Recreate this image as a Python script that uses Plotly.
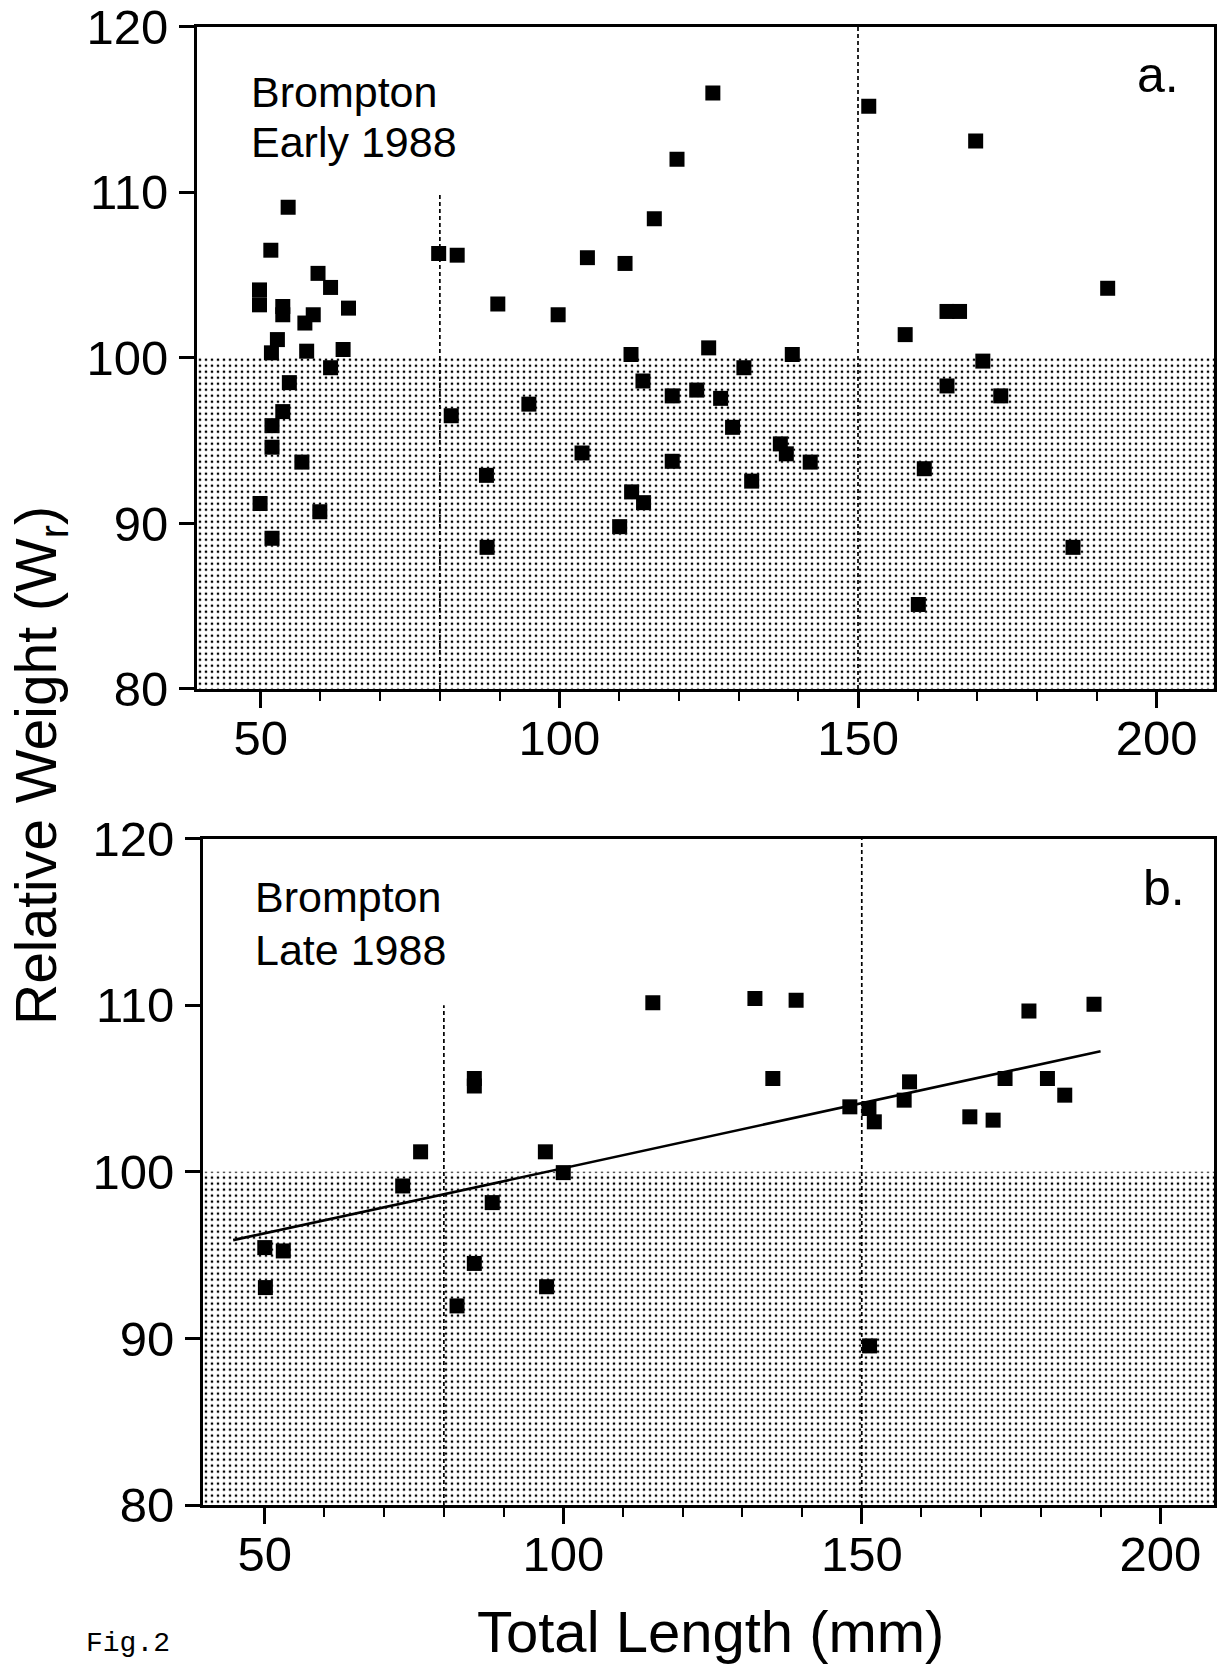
import plotly.graph_objects as go

# ---------------- data ----------------
early_x = [49.8, 49.8, 51.7, 54.6, 53.7, 53.7, 59.6, 61.7, 64.7, 57.4, 58.8, 52.8,
           51.8, 57.7, 63.8, 61.7, 54.8, 53.7, 51.9, 51.9, 56.9, 49.9, 59.9, 51.9,
           79.8, 82.9, 89.7, 99.8, 104.7, 111.0, 115.9, 119.7, 125.7, 81.9, 94.9,
           87.8, 87.9, 103.8, 112.0, 114.0, 118.9, 123.0, 125.0, 127.0, 129.0,
           130.9, 139.0, 118.9, 137.0, 138.0, 142.0, 132.2, 112.1, 114.1, 110.1,
           151.8, 169.7, 191.8, 157.9, 164.9, 167.0, 170.9, 164.9, 173.9, 161.1,
           186.0, 160.1]
early_y = [104.1, 103.2, 106.5, 109.1, 103.1, 102.6, 105.1, 104.25, 103.0, 102.1, 102.6, 101.1,
           100.3, 100.4, 100.5, 99.4, 98.5, 96.75, 95.9, 94.6, 93.7, 91.2, 90.7, 89.1,
           106.3, 106.2, 103.25, 102.6, 106.05, 105.7, 108.4, 112.0, 116.0, 96.5, 97.2,
           92.9, 88.55, 94.25, 100.2, 98.6, 97.7, 98.05, 100.6, 97.55, 95.8,
           99.4, 100.2, 93.75, 94.8, 94.2, 93.7, 92.55, 91.9, 91.25, 89.8,
           115.2, 113.1, 104.2, 101.4, 102.8, 102.8, 99.8, 98.3, 97.7, 93.3,
           88.55, 85.1]

late_x = [50.0, 53.1, 50.1, 73.1, 76.1, 85.1, 85.1, 88.1, 85.1, 82.2, 97.0, 100.0,
          97.2, 115.0, 132.1, 139.0, 135.1, 148.0, 151.2, 152.1, 157.1, 158.0,
          168.1, 172.0, 174.0, 178.0, 181.1, 184.0, 188.9, 151.3]
late_y = [95.45, 95.25, 93.05, 99.15, 101.2, 105.6, 105.15, 98.15, 94.5, 91.95, 101.2, 99.95,
          93.1, 110.15, 110.4, 110.3, 105.6, 103.9, 103.8, 103.0, 104.3, 105.4,
          103.3, 103.1, 105.6, 109.65, 105.6, 104.6, 110.05, 89.55]

# regression line (late 1988)
fit_x = [44.7, 190.0]
fit_y = [95.9, 107.24]

# size-class boundaries (dashed) and their upper ends
size_breaks = [80, 150]
break_tops = [110, 120]

wr_standard = 100          # shaded region below this Wr
y_range = [80, 120]
x_range_a = [39.34, 209.6]
x_range_b = [39.65, 209.0]
y_ticks = [80, 90, 100, 110, 120]
x_ticks = [50, 100, 150, 200]
x_minor = list(range(50, 210, 10))

FONT = "Liberation Sans, Arial, Helvetica, sans-serif"
W, H = 1220, 1666

def px_x(p):
    return p / W

def px_y(p):
    return 1 - p / H

fig = go.Figure()

panels = [
    ("x", "y", x_range_a, early_x, early_y, False),
    ("x2", "y2", x_range_b, late_x, late_y, True),
]

for xa, ya, xr, xs, ys, has_fit in panels:
    # shaded region below the standard
    fig.add_trace(go.Scatter(
        x=[xr[0], xr[1], xr[1], xr[0], xr[0]],
        y=[y_range[0], y_range[0], wr_standard, wr_standard, y_range[0]],
        mode="lines", fill="toself", line=dict(width=0, color="rgba(0,0,0,0)"),
        fillcolor="white",
        fillpattern=dict(shape=".", fgcolor="black", bgcolor="white",
                         size=6, solidity=0.16, fillmode="replace"),
        xaxis=xa, yaxis=ya, showlegend=False, hoverinfo="skip"))
    # dashed size-class boundaries
    for b, top in zip(size_breaks, break_tops):
        fig.add_trace(go.Scatter(
            x=[b, b], y=[y_range[0], top], mode="lines",
            line=dict(color="black", width=1.7, dash="4px,3px"),
            xaxis=xa, yaxis=ya, showlegend=False, hoverinfo="skip"))
    if has_fit:
        fig.add_trace(go.Scatter(
            x=fit_x, y=fit_y, mode="lines",
            line=dict(color="black", width=2.6),
            xaxis=xa, yaxis=ya, showlegend=False))
    fig.add_trace(go.Scatter(
        x=xs, y=ys, mode="markers",
        marker=dict(symbol="square", size=15, color="black", line=dict(width=0)),
        xaxis=xa, yaxis=ya, showlegend=False))

axis_common = dict(
    showline=True, linecolor="black", linewidth=3, mirror=True,
    ticks="outside", tickcolor="black", tickwidth=2.5,
    showgrid=False, zeroline=False, automargin=False,
    ticklabeloverflow="allow",
    tickfont=dict(family=FONT, size=49, color="black"),
)

fig.update_layout(
    width=W, height=H,
    margin=dict(l=0, r=0, t=0, b=0, pad=0, autoexpand=False),
    paper_bgcolor="white", plot_bgcolor="white",
    font=dict(family=FONT, color="black"),
    xaxis=dict(domain=[px_x(197), px_x(1214)], range=x_range_a, anchor="y",
               tickvals=x_ticks, ticklen=16, ticklabelstandoff=-12,
               minor=dict(tickvals=x_minor, ticklen=9, tickwidth=2,
                          ticks="outside", tickcolor="black"),
               **axis_common),
    yaxis=dict(domain=[px_y(688.9), px_y(26.7)], range=y_range, anchor="x",
               tickvals=y_ticks, ticklen=15, ticklabelstandoff=1,
               **axis_common),
    xaxis2=dict(domain=[px_x(203), px_x(1214)], range=x_range_b, anchor="y2",
                tickvals=x_ticks, ticklen=16, ticklabelstandoff=-12,
                minor=dict(tickvals=x_minor, ticklen=9, tickwidth=2,
                           ticks="outside", tickcolor="black"),
                **axis_common),
    yaxis2=dict(domain=[px_y(1505), px_y(838.6)], range=y_range, anchor="x2",
                tickvals=y_ticks, ticklen=15, ticklabelstandoff=1,
                **axis_common),
)

def label(text, xp, yp, size, xanchor="left", family=FONT, angle=0):
    return dict(text=text, x=px_x(xp), y=px_y(yp), xref="paper", yref="paper",
                xanchor=xanchor, yanchor="middle", showarrow=False,
                textangle=angle, font=dict(family=family, size=size, color="black"))

ann = [
    label("Brompton", 249, 92, 43),
    label("Early 1988", 249, 142, 43),
    label("a.", 1181, 75, 50, xanchor="right"),
    label("Brompton", 253, 897, 43),
    label("Late 1988", 253, 950, 43),
    label("b.", 1187, 888, 50, xanchor="right"),
    label("Relative Weight (W<sub>r</sub>)", 40, 766, 57, xanchor="center", angle=-90),
    label("Total Length (mm)", 710, 1631, 58, xanchor="center"),
    label("Fig.2", 84, 1643, 28, family="Liberation Mono, Courier New, monospace"),
]
fig.update_layout(annotations=ann)

fig.write_html("out.html",
               config={"displayModeBar": False},
               post_script="document.body.style.margin='0';"
                           "document.body.style.overflow='hidden';")
